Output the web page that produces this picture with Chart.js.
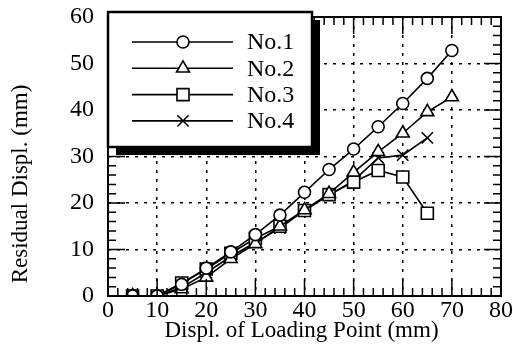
<!DOCTYPE html>
<html>
<head>
<meta charset="utf-8">
<script src="https://cdn.jsdelivr.net/npm/chart.js@4.4.0/dist/chart.umd.min.js"></script>
<style>
  html, body { margin: 0; padding: 0; background: #fff; }
  #c { display: block; }
</style>
</head>
<body>
<canvas id="c" width="513" height="349" style="width:513px;height:349px"></canvas>
<script>
"use strict";

// Displacement of loading point (mm) at which readings were taken
const LOAD_DISPL = [5, 10, 15, 20, 25, 30, 35, 40, 45, 50, 55, 60, 65, 70];

// Residual displacement (mm) per specimen
const NO1 = [0, 0, 2.5, 6, 9.5, 13.2, 17.4, 22.3, 27.2, 31.6, 36.4, 41.4, 46.8, 52.8];
const NO2 = [0, 0, 1.5, 4, 8, 11.2, 15, 18.5, 22, 26.6, 31, 35, 39.6, 42.8];
const NO3 = [0, 0, 2.8, 5.8, 9.2, 12.4, 15, 18.4, 21.8, 24.5, 27, 25.6, 17.8];
const NO4 = [0, 0, 1.8, 5, 8.5, 11.5, 14.6, 18.4, 21.7, 24.8, 29.7, 30.3, 34];

const LABELS = ["No.1", "No.2", "No.3", "No.4"];
const X_TITLE = "Displ. of Loading Point (mm)";
const Y_TITLE = "Residual Displ. (mm)";

const SERIF = "'Liberation Serif', 'DejaVu Serif', serif";

const pairs = (ys) => ys.map((y, i) => ({ x: LOAD_DISPL[i], y }));

function series(label, ys, pointStyle, radius) {
  return {
    label,
    data: pairs(ys),
    borderColor: "#000",
    backgroundColor: "#fff",
    borderWidth: 1.6,
    pointStyle,
    pointRadius: radius,
    pointBorderWidth: 1.6,
    pointBackgroundColor: "#fff",
    pointBorderColor: "#000",
    tension: 0,
  };
}

const isEdge = (ctx, max) => ctx.tick && (ctx.tick.value === 0 || ctx.tick.value === max);

// keep label overhang from pushing the plot area in
const noPad = (s) => { s.paddingTop = 0; s.paddingBottom = 0; s.paddingLeft = 0; s.paddingRight = 0; };

/* frame with inward ticks on all four sides */
const framePlugin = {
  id: "frame",
  afterDatasetsDraw(chart) {
    const { ctx, chartArea: a, scales } = chart;
    ctx.save();
    ctx.strokeStyle = "#000";
    ctx.lineWidth = 2;
    ctx.strokeRect(a.left, a.top, a.right - a.left, a.bottom - a.top);
    ctx.lineWidth = 1.5;
    ctx.beginPath();
    for (let v = 0; v <= 80; v += 2) {
      const x = scales.x.getPixelForValue(v);
      const len = v % 10 === 0 ? 17 : 8;
      ctx.moveTo(x, a.bottom); ctx.lineTo(x, a.bottom - len);
      ctx.moveTo(x, a.top); ctx.lineTo(x, a.top + len);
    }
    for (let v = 0; v <= 60; v += 2) {
      const y = scales.y.getPixelForValue(v);
      const len = v % 10 === 0 ? 17 : 8;
      ctx.moveTo(a.left, y); ctx.lineTo(a.left + len, y);
      ctx.moveTo(a.right, y); ctx.lineTo(a.right - len, y);
    }
    ctx.stroke();
    ctx.restore();
  },
  afterDraw(chart) {
    const { ctx, chartArea: a } = chart;
    ctx.save();
    ctx.fillStyle = "#000";
    ctx.font = "23px " + SERIF;
    ctx.textAlign = "center";
    ctx.textBaseline = "middle";
    ctx.fillText(X_TITLE, (a.left + a.right) / 2 - 3, 331);
    ctx.translate(21, 184);
    ctx.rotate(-Math.PI / 2);
    ctx.fillText(Y_TITLE, 0, 0);
    ctx.restore();
  },
};

/* boxed legend with a drop shadow, in the upper-left of the plot */
const legendPlugin = {
  id: "boxLegend",
  afterDraw(chart) {
    const { ctx } = chart;
    const bx = 108, by = 12, bw = 204, bh = 135;
    ctx.save();
    ctx.fillStyle = "#000";
    ctx.fillRect(bx + 8, by + 8, bw, bh);
    ctx.fillStyle = "#fff";
    ctx.fillRect(bx, by, bw, bh);
    ctx.strokeStyle = "#000";
    ctx.lineWidth = 2.5;
    ctx.strokeRect(bx, by, bw, bh);

    ctx.font = "24px " + SERIF;
    ctx.textBaseline = "middle";
    chart.data.datasets.forEach((ds, i) => {
      const y = 42 + i * 26.3;
      ctx.strokeStyle = "#000";
      ctx.lineWidth = 1.6;
      ctx.beginPath();
      ctx.moveTo(132, y);
      ctx.lineTo(233, y);
      ctx.stroke();
      ctx.fillStyle = "#fff";
      Chart.helpers.drawPoint(ctx, {
        pointStyle: ds.pointStyle, radius: ds.pointRadius, rotation: 0, borderWidth: 1.6,
      }, 183, y);
      ctx.fillStyle = "#000";
      ctx.fillText(ds.label, 247, y + 1);
    });
    ctx.restore();
  },
};

new Chart(document.getElementById("c"), {
  type: "line",
  data: {
    datasets: [
      series(LABELS[0], NO1, "circle", 6),
      series(LABELS[1], NO2, "triangle", 7.5),
      series(LABELS[2], NO3, "rect", 8.5),
      series(LABELS[3], NO4, "crossRot", 8),
    ],
  },
  options: {
    responsive: false,
    animation: false,
    layout: { padding: { left: 0, right: 12, top: 17, bottom: 0 } },
    plugins: { legend: { display: false }, tooltip: { enabled: false } },
    scales: {
      x: {
        type: "linear",
        min: 0,
        max: 80,
        afterFit: (s) => { s.height = 53; noPad(s); },
        border: { display: false, dash: [3, 6] },
        grid: {
          color: (ctx) => (isEdge(ctx, 80) ? "rgba(0,0,0,0)" : "#000"),
          lineWidth: 1.5,
          drawTicks: false,
        },
        ticks: {
          stepSize: 10,
          autoSkip: false,
          maxRotation: 0,
          padding: 0,
          color: "#000",
          font: { family: SERIF, size: 24 },
        },
      },
      y: {
        min: 0,
        max: 60,
        afterFit: (s) => { s.width = 108; noPad(s); },
        border: { display: false, dash: [3, 6] },
        grid: {
          color: (ctx) => (isEdge(ctx, 60) ? "rgba(0,0,0,0)" : "#000"),
          lineWidth: 1.5,
          drawTicks: false,
        },
        ticks: {
          stepSize: 10,
          padding: 14,
          color: "#000",
          font: { family: SERIF, size: 24 },
        },
      },
    },
  },
  plugins: [framePlugin, legendPlugin],
});
</script>
</body>
</html>
